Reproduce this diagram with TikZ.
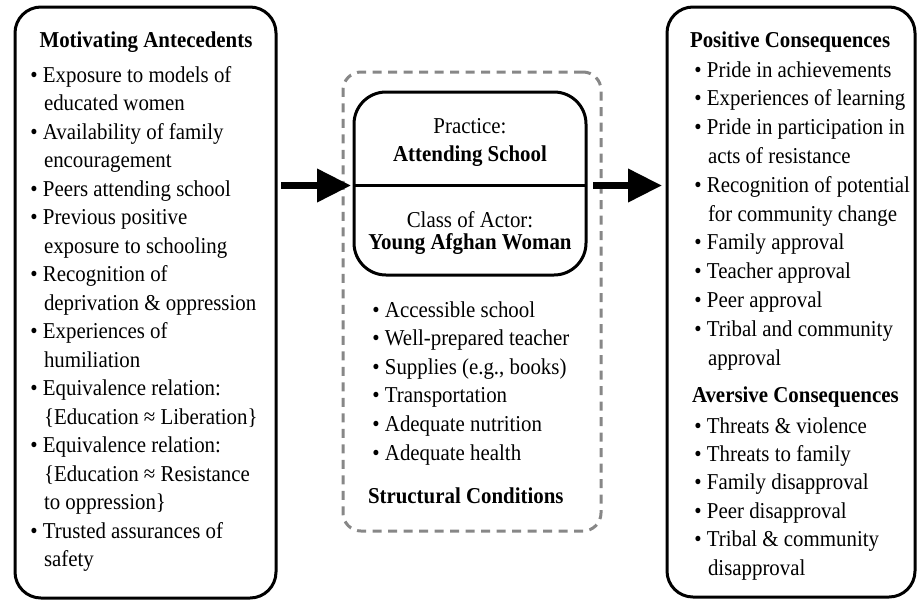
\documentclass[tikz,border=0pt]{standalone}
\usepackage{fontspec}
\setmainfont[FakeStretch=0.92]{Liberation Serif}
\usetikzlibrary{arrows.meta,calc}
\newcommand\mybul{\textbullet\ }
\newcommand\mycont{\hspace*{13.6pt}}
\begin{document}
\begin{tikzpicture}[x=1pt,y=-1pt,
  bigbox/.style={draw=black,line width=3pt,rounded corners=26pt,inner sep=0pt,outer sep=0pt},
  actbox/.style={draw=black,line width=3pt,rounded corners=32pt,inner sep=0pt,outer sep=0pt},
  dashbox/.style={draw=black!47,line width=3pt,dash pattern=on 9pt off 6.5pt,rounded corners=18pt,inner sep=0pt,outer sep=0pt},
  arr/.style={line width=7pt,-{Triangle[length=34pt,width=32pt]}},
  txt/.style={anchor=base west,inner sep=0pt,outer sep=0pt,font=\fontsize{22.7}{27}\selectfont},
  ctxt/.style={anchor=base,inner sep=0pt,outer sep=0pt,font=\fontsize{22.7}{27}\selectfont},
  ttl/.style={txt,font=\fontsize{22.7}{27}\selectfont\bfseries},
  cttl/.style={ctxt,font=\fontsize{22.7}{27}\selectfont\bfseries}]
\useasboundingbox (0,0) rectangle (917,600);

% boxes
\node[bigbox,minimum width=261pt,minimum height=591pt] (ante) at (145.5,302.5) {};
\node[bigbox,minimum width=248pt,minimum height=590pt] (cons) at (791,302) {};
\node[dashbox,minimum width=258pt,minimum height=459pt] (cond) at (472,301.5) {};
\node[actbox,minimum width=232pt,minimum height=183pt] (actor) at (470,183.5) {};
\coordinate (div) at (470,185.5);
\draw[line width=3pt] (actor.west |- div) -- (actor.east |- div);

% arrows
\draw[arr] ($(ante.east |- div)+(5,0)$) -- ($(actor.west |- div)+(-3,0)$);
\draw[arr] ($(actor.east |- div)+(7,0)$) -- ($(cons.west |- div)+(-5,0)$);

% left box
\node[cttl] (anteT) at (146,47) {Motivating Antecedents};
\foreach \t [count=\i from 0] in {
  {\mybul Exposure to models of},
  {\mycont educated women},
  {\mybul Availability of family},
  {\mycont encouragement},
  {\mybul Peers attending school},
  {\mybul Previous positive},
  {\mycont exposure to schooling},
  {\mybul Recognition of},
  {\mycont deprivation \& oppression},
  {\mybul Experiences of},
  {\mycont humiliation},
  {\mybul Equivalence relation:},
  {\mycont \{Education ≈ Liberation\}},
  {\mybul Equivalence relation:},
  {\mycont \{Education ≈ Resistance},
  {\mycont to oppression\}},
  {\mybul Trusted assurances of},
  {\mycont safety}}
  \node[txt] (A\i) at (30.4,{82+28.5*\i}) {\t};

% centre
\node[ctxt] (pracL) at (470,133) {Practice:};
\node[cttl] (pracT) at (470,161) {Attending School};
\node[ctxt] (actL) at (470,227) {Class of Actor:};
\node[cttl] (actT) at (470,249) {Young Afghan Woman};
\foreach \t [count=\i from 0] in {
  {\mybul Accessible school},
  {\mybul Well-prepared teacher},
  {\mybul Supplies (e.g., books)},
  {\mybul Transportation},
  {\mybul Adequate nutrition},
  {\mybul Adequate health}}
  \node[txt] (S\i) at (372.4,{317+28.6*\i}) {\t};
\node[ttl] (condT) at (368,503) {Structural Conditions};

% right box
\node[ttl] (posT) at (690,47) {Positive Consequences};
\foreach \t [count=\i from 0] in {
  {\mybul Pride in achievements},
  {\mybul Experiences of learning},
  {\mybul Pride in participation in},
  {\mycont acts of resistance},
  {\mybul Recognition of potential},
  {\mycont for community change},
  {\mybul Family approval},
  {\mybul Teacher approval},
  {\mybul Peer approval},
  {\mybul Tribal and community},
  {\mycont approval}}
  \node[txt] (P\i) at (694.4,{77+28.8*\i}) {\t};
\node[ttl] (avT) at (692,402) {Aversive Consequences};
\foreach \t [count=\i from 0] in {
  {\mybul Threats \& violence},
  {\mybul Threats to family},
  {\mybul Family disapproval},
  {\mybul Peer disapproval},
  {\mybul Tribal \& community},
  {\mycont disapproval}}
  \node[txt] (V\i) at (694.4,{433+28.4*\i}) {\t};
\end{tikzpicture}
\end{document}
